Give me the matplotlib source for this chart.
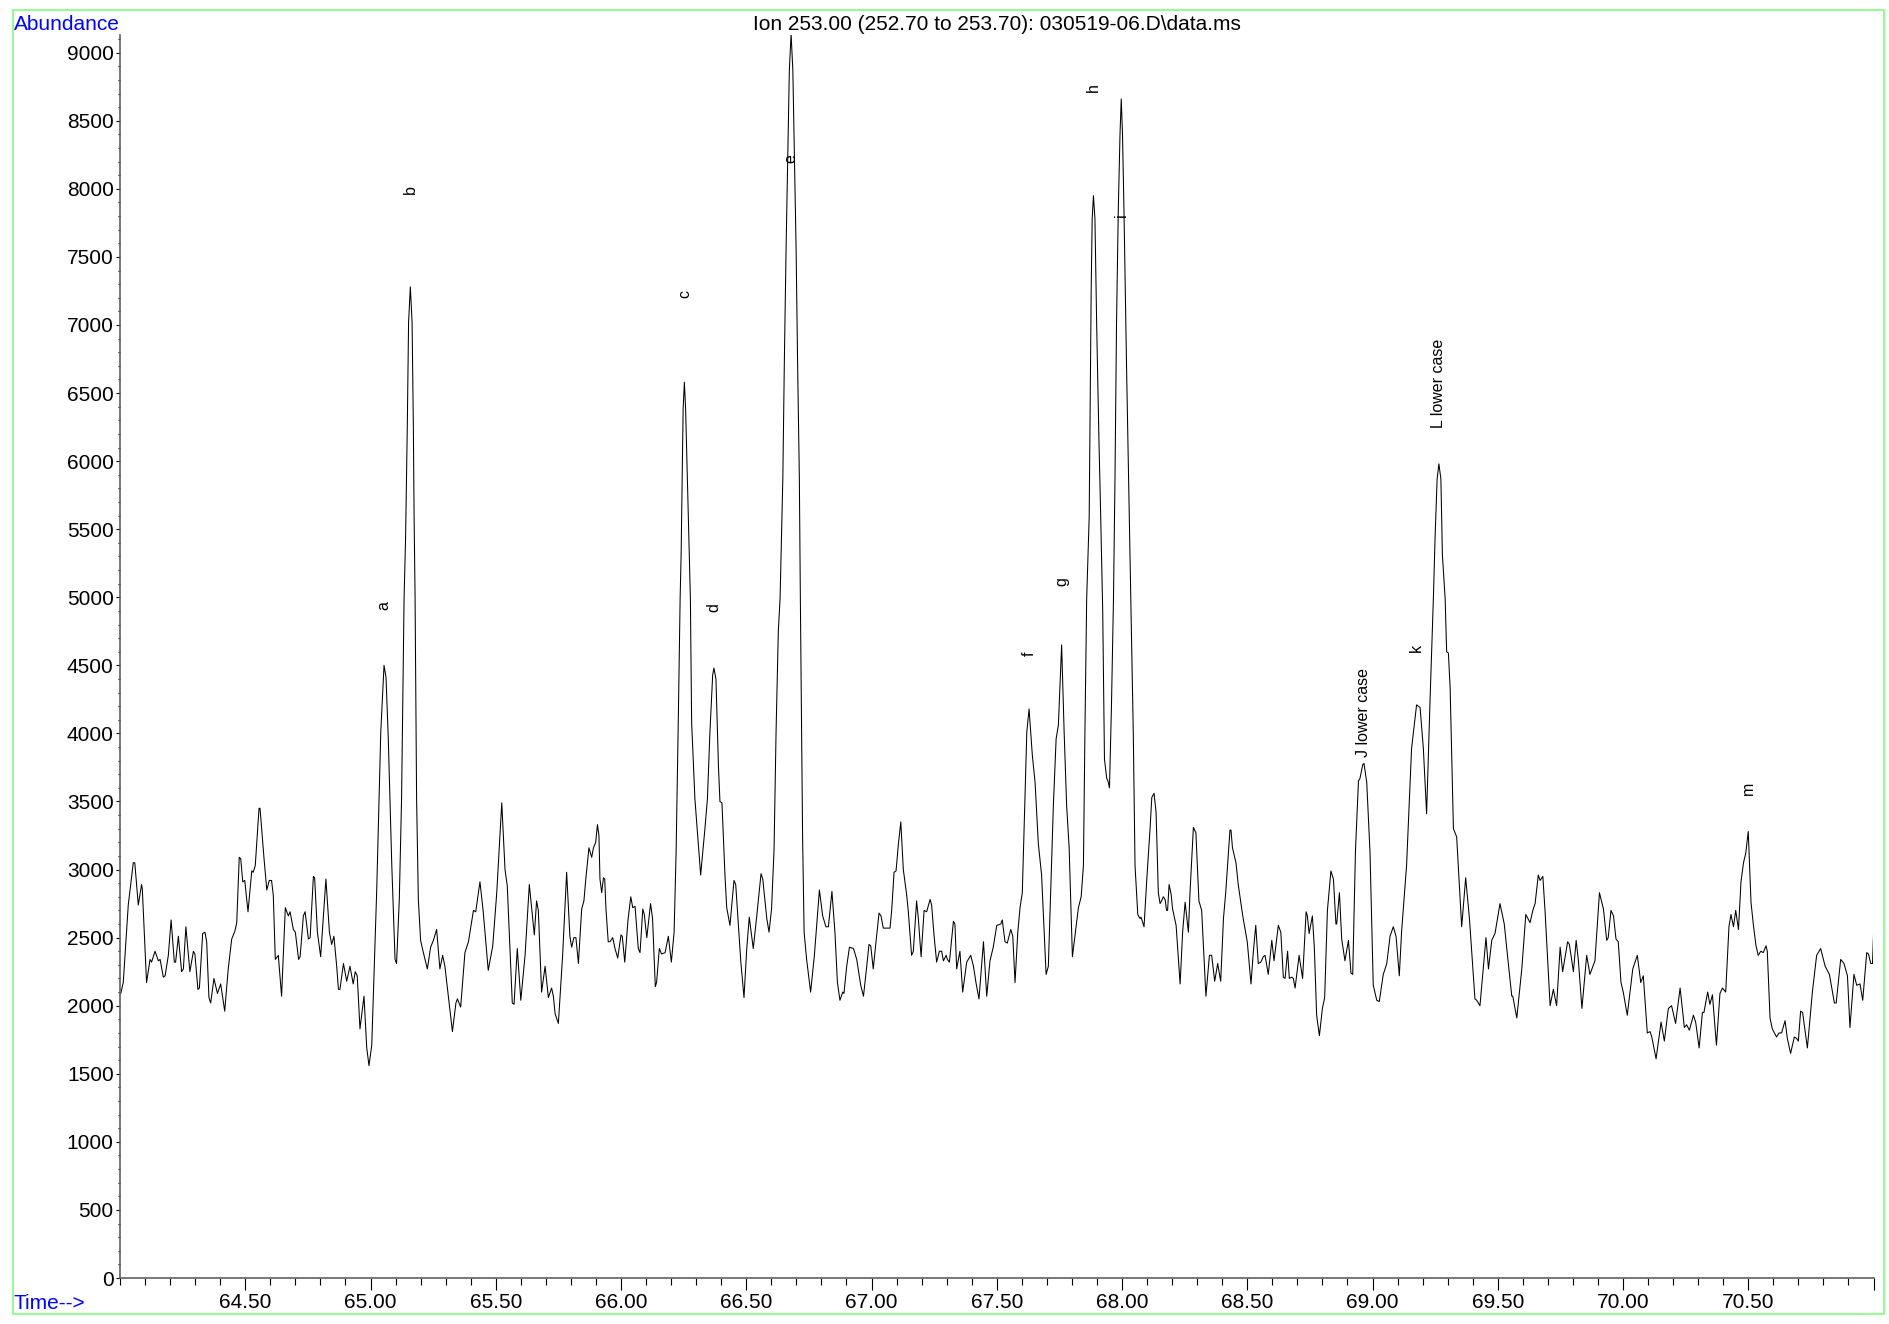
import numpy as np
import matplotlib
matplotlib.use("Agg")
import matplotlib.pyplot as plt
from matplotlib.patches import Rectangle
from matplotlib.ticker import MultipleLocator

plt.rcParams['font.family'] = ['Liberation Sans', 'DejaVu Sans']

# Extracted ion chromatogram, m/z 253 (retention time in minutes, abundance in counts)
time_min = [
    64.003, 64.013, 64.033, 64.053, 64.059, 64.073, 64.086, 64.089, 64.106, 64.120,
    64.126, 64.140, 64.153, 64.160, 64.173, 64.180, 64.193, 64.204, 64.217, 64.222,
    64.233, 64.246, 64.253, 64.263, 64.279, 64.293, 64.299, 64.311, 64.317, 64.330,
    64.339, 64.346, 64.355, 64.362, 64.375, 64.389, 64.402, 64.418, 64.432, 64.446,
    64.459, 64.466, 64.476, 64.482, 64.490, 64.498, 64.511, 64.526, 64.532, 64.540,
    64.555, 64.559, 64.575, 64.586, 64.596, 64.605, 64.612, 64.620, 64.632, 64.645,
    64.660, 64.672, 64.679, 64.692, 64.700, 64.713, 64.719, 64.732, 64.739, 64.752,
    64.759, 64.772, 64.777, 64.788, 64.801, 64.822, 64.836, 64.845, 64.854, 64.865,
    64.872, 64.878, 64.892, 64.905, 64.918, 64.931, 64.939, 64.947, 64.958, 64.974,
    64.985, 64.994, 65.005, 65.025, 65.041, 65.054, 65.062, 65.071, 65.085, 65.098,
    65.104, 65.115, 65.124, 65.134, 65.140, 65.147, 65.152, 65.159, 65.166, 65.171,
    65.174, 65.178, 65.184, 65.191, 65.200, 65.211, 65.227, 65.240, 65.251, 65.264,
    65.277, 65.288, 65.297, 65.327, 65.341, 65.347, 65.360, 65.377, 65.391, 65.411,
    65.420, 65.437, 65.450, 65.470, 65.488, 65.504, 65.524, 65.537, 65.546, 65.554,
    65.566, 65.573, 65.586, 65.600, 65.617, 65.634, 65.654, 65.663, 65.670, 65.683,
    65.697, 65.710, 65.723, 65.730, 65.737, 65.750, 65.767, 65.783, 65.796, 65.803,
    65.812, 65.820, 65.830, 65.843, 65.852, 65.860, 65.872, 65.883, 65.890, 65.899,
    65.906, 65.912, 65.916, 65.923, 65.930, 65.935, 65.940, 65.949, 65.956, 65.967,
    65.976, 65.987, 66.000, 66.005, 66.015, 66.028, 66.039, 66.047, 66.056, 66.069,
    66.076, 66.087, 66.093, 66.103, 66.118, 66.126, 66.137, 66.142, 66.153, 66.162,
    66.176, 66.189, 66.201, 66.212, 66.220, 66.229, 66.236, 66.240, 66.244, 66.248,
    66.253, 66.258, 66.265, 66.273, 66.277, 66.282, 66.295, 66.318, 66.335, 66.345,
    66.355, 66.366, 66.371, 66.379, 66.389, 66.395, 66.403, 66.415, 66.422, 66.435,
    66.451, 66.458, 66.468, 66.478, 66.491, 66.502, 66.512, 66.528, 66.542, 66.559,
    66.566, 66.582, 66.591, 66.601, 66.611, 66.619, 66.628, 66.635, 66.646, 66.652,
    66.659, 66.666, 66.672, 66.679, 66.686, 66.692, 66.699, 66.705, 66.712, 66.716,
    66.721, 66.725, 66.731, 66.741, 66.757, 66.772, 66.792, 66.805, 66.818, 66.828,
    66.842, 66.854, 66.864, 66.874, 66.885, 66.890, 66.901, 66.912, 66.928, 66.941,
    66.957, 66.968, 66.981, 66.990, 66.997, 67.007, 67.018, 67.030, 67.038, 67.047,
    67.074, 67.081, 67.090, 67.098, 67.107, 67.117, 67.127, 67.140, 67.147, 67.160,
    67.167, 67.180, 67.187, 67.198, 67.210, 67.220, 67.234, 67.240, 67.250, 67.260,
    67.271, 67.280, 67.287, 67.298, 67.303, 67.311, 67.327, 67.333, 67.340, 67.353,
    67.364, 67.380, 67.396, 67.407, 67.417, 67.429, 67.447, 67.460, 67.473, 67.486,
    67.500, 67.516, 67.522, 67.533, 67.542, 67.556, 67.564, 67.573, 67.584, 67.593,
    67.602, 67.620, 67.629, 67.642, 67.653, 67.666, 67.679, 67.697, 67.706, 67.726,
    67.737, 67.746, 67.759, 67.769, 67.779, 67.789, 67.802, 67.826, 67.837, 67.846,
    67.852, 67.859, 67.869, 67.873, 67.877, 67.881, 67.886, 67.892, 67.899, 67.908,
    67.915, 67.923, 67.930, 67.939, 67.944, 67.950, 67.958, 67.966, 67.972, 67.978,
    67.985, 67.992, 67.997, 68.002, 68.008, 68.018, 68.029, 68.036, 68.045, 68.052,
    68.063, 68.072, 68.076, 68.088, 68.099, 68.112, 68.119, 68.128, 68.136, 68.145,
    68.152, 68.158, 68.165, 68.172, 68.178, 68.182, 68.188, 68.196, 68.202, 68.216,
    68.232, 68.242, 68.252, 68.265, 68.272, 68.285, 68.295, 68.307, 68.318, 68.325,
    68.335, 68.349, 68.358, 68.370, 68.382, 68.394, 68.405, 68.414, 68.431, 68.435,
    68.441, 68.455, 68.464, 68.482, 68.500, 68.515, 68.524, 68.534, 68.544, 68.554,
    68.564, 68.571, 68.584, 68.598, 68.607, 68.624, 68.634, 68.644, 68.651, 68.661,
    68.668, 68.677, 68.684, 68.691, 68.707, 68.721, 68.735, 68.740, 68.747, 68.760,
    68.768, 68.777, 68.788, 68.800, 68.809, 68.820, 68.834, 68.844, 68.854, 68.857,
    68.868, 68.877, 68.890, 68.904, 68.914, 68.921, 68.932, 68.944, 68.950, 68.961,
    68.966, 68.977, 68.990, 69.003, 69.017, 69.027, 69.043, 69.057, 69.070, 69.083,
    69.094, 69.107, 69.116, 69.136, 69.156, 69.176, 69.190, 69.203, 69.216, 69.230,
    69.243, 69.250, 69.258, 69.265, 69.273, 69.279, 69.290, 69.296, 69.303, 69.310,
    69.323, 69.336, 69.356, 69.372, 69.387, 69.409, 69.416, 69.429, 69.453, 69.463,
    69.476, 69.489, 69.509, 69.526, 69.536, 69.556, 69.560, 69.576, 69.596, 69.612,
    69.629, 69.640, 69.649, 69.662, 69.669, 69.680, 69.689, 69.709, 69.722, 69.735,
    69.749, 69.759, 69.779, 69.786, 69.802, 69.813, 69.822, 69.836, 69.855, 69.868,
    69.888, 69.906, 69.922, 69.935, 69.941, 69.952, 69.962, 69.972, 69.981, 69.992,
    70.001, 70.017, 70.039, 70.057, 70.071, 70.081, 70.097, 70.108, 70.115, 70.132,
    70.152, 70.165, 70.181, 70.194, 70.210, 70.228, 70.245, 70.254, 70.265, 70.281,
    70.290, 70.304, 70.317, 70.323, 70.338, 70.347, 70.357, 70.373, 70.387, 70.397,
    70.410, 70.423, 70.431, 70.441, 70.450, 70.461, 70.471, 70.481, 70.490, 70.500,
    70.511, 70.520, 70.531, 70.540, 70.550, 70.560, 70.571, 70.576, 70.587, 70.596,
    70.613, 70.623, 70.633, 70.647, 70.656, 70.669, 70.684, 70.693, 70.700, 70.709,
    70.717, 70.736, 70.756, 70.773, 70.789, 70.807, 70.824, 70.844, 70.851, 70.869,
    70.882, 70.896, 70.906, 70.922, 70.933, 70.946, 70.957, 70.973, 70.980, 70.989,
    70.996, 71.000,
]

abundance = [
    2090, 2170, 2740, 3050, 3050, 2740, 2890, 2860, 2170, 2340,
    2320, 2400, 2330, 2340, 2210, 2220, 2370, 2630, 2320, 2320,
    2510, 2250, 2270, 2580, 2250, 2400, 2380, 2120, 2130, 2530,
    2540, 2470, 2060, 2020, 2200, 2090, 2160, 1960, 2270, 2490,
    2550, 2610, 3090, 3080, 2910, 2920, 2690, 2990, 2980, 3030,
    3450, 3450, 3080, 2850, 2920, 2920, 2810, 2340, 2370, 2070,
    2720, 2660, 2690, 2560, 2540, 2340, 2360, 2660, 2690, 2490,
    2500, 2950, 2940, 2540, 2360, 2930, 2540, 2450, 2510, 2290,
    2120, 2120, 2310, 2180, 2290, 2160, 2250, 2220, 1830, 2070,
    1690, 1560, 1710, 2860, 4010, 4500, 4410, 3960, 3030, 2340,
    2310, 2780, 3520, 4990, 5430, 6270, 7020, 7280, 7020, 6270,
    5600, 4990, 3520, 2780, 2480, 2390, 2270, 2430, 2480, 2560,
    2270, 2370, 2290, 1810, 2020, 2050, 1990, 2390, 2470, 2700,
    2690, 2910, 2690, 2260, 2440, 2830, 3490, 3000, 2880, 2540,
    2020, 2010, 2420, 2040, 2370, 2890, 2520, 2770, 2700, 2100,
    2290, 2060, 2130, 2070, 1940, 1870, 2370, 2980, 2510, 2430,
    2500, 2500, 2310, 2710, 2770, 2940, 3160, 3090, 3160, 3200,
    3330, 3250, 2930, 2830, 2940, 2930, 2710, 2470, 2470, 2500,
    2420, 2350, 2520, 2510, 2320, 2630, 2800, 2720, 2730, 2420,
    2390, 2710, 2670, 2500, 2750, 2640, 2140, 2170, 2420, 2380,
    2390, 2510, 2320, 2540, 3130, 4130, 4990, 5310, 5870, 6380,
    6580, 6380, 5870, 5310, 4990, 4080, 3520, 2960, 3300, 3520,
    4010, 4430, 4480, 4400, 3760, 3500, 3490, 2960, 2720, 2590,
    2920, 2890, 2610, 2330, 2060, 2420, 2650, 2420, 2660, 2970,
    2930, 2640, 2540, 2710, 3150, 4010, 4750, 4990, 5870, 6720,
    7560, 8260, 8870, 9140, 8870, 8260, 7560, 6720, 5870, 4990,
    4010, 3230, 2540, 2340, 2100, 2370, 2850, 2660, 2580, 2580,
    2840, 2540, 2170, 2040, 2100, 2090, 2290, 2430, 2420, 2340,
    2150, 2070, 2290, 2450, 2440, 2270, 2470, 2680, 2660, 2570,
    2570, 2710, 2980, 2990, 3180, 3350, 3000, 2820, 2690, 2370,
    2400, 2770, 2640, 2360, 2700, 2690, 2780, 2740, 2510, 2320,
    2400, 2400, 2330, 2370, 2340, 2320, 2620, 2600, 2270, 2400,
    2100, 2320, 2370, 2290, 2170, 2050, 2470, 2070, 2330, 2430,
    2590, 2600, 2630, 2470, 2460, 2560, 2510, 2170, 2540, 2720,
    2830, 4010, 4180, 3840, 3640, 3190, 2960, 2230, 2290, 3470,
    3960, 4060, 4650, 4010, 3470, 3160, 2360, 2720, 2800, 3030,
    4010, 4990, 5590, 6430, 7270, 7780, 7950, 7780, 6990, 6150,
    5590, 4900, 3810, 3670, 3650, 3600, 4210, 4990, 5870, 6990,
    7830, 8400, 8660, 8400, 7830, 6710, 5590, 4900, 4010, 3030,
    2670, 2640, 2650, 2580, 2930, 3300, 3530, 3560, 3420, 2830,
    2750, 2770, 2800, 2780, 2700, 2700, 2890, 2820, 2710, 2590,
    2160, 2540, 2760, 2540, 2850, 3310, 3270, 2770, 2700, 2440,
    2070, 2370, 2370, 2180, 2310, 2180, 2640, 2830, 3290, 3290,
    3160, 3050, 2890, 2660, 2470, 2160, 2390, 2590, 2310, 2320,
    2360, 2370, 2230, 2480, 2330, 2590, 2540, 2210, 2200, 2400,
    2200, 2210, 2200, 2130, 2370, 2200, 2690, 2660, 2530, 2660,
    2420, 1930, 1780, 1980, 2060, 2700, 2990, 2930, 2600, 2600,
    2830, 2490, 2330, 2480, 2240, 2230, 3140, 3650, 3670, 3770,
    3780, 3640, 3130, 2150, 2040, 2030, 2230, 2310, 2510, 2580,
    2510, 2220, 2540, 3030, 3890, 4210, 4190, 3890, 3410, 4260,
    4990, 5450, 5870, 5980, 5870, 5310, 4990, 4600, 4590, 4330,
    3300, 3240, 2580, 2940, 2640, 2050, 2040, 2000, 2500, 2270,
    2480, 2530, 2750, 2600, 2420, 2070, 2070, 1910, 2270, 2670,
    2610, 2700, 2750, 2960, 2920, 2950, 2690, 2000, 2120, 2000,
    2430, 2250, 2470, 2450, 2250, 2480, 2330, 1980, 2370, 2230,
    2330, 2830, 2710, 2480, 2500, 2700, 2660, 2490, 2470, 2170,
    2100, 1930, 2270, 2370, 2170, 2220, 1800, 1810, 1770, 1610,
    1880, 1740, 1980, 2000, 1870, 2130, 1840, 1860, 1820, 1930,
    1880, 1690, 1950, 1950, 2100, 2010, 2080, 1710, 2090, 2130,
    2100, 2580, 2670, 2580, 2700, 2560, 2910, 3050, 3120, 3280,
    2760, 2600, 2440, 2370, 2400, 2390, 2440, 2400, 1910, 1830,
    1770, 1800, 1800, 1890, 1760, 1650, 1770, 1760, 1740, 1960,
    1950, 1690, 2100, 2370, 2420, 2290, 2230, 2020, 2020, 2340,
    2310, 2220, 1840, 2230, 2150, 2160, 2040, 2390, 2380, 2310,
    2310, 2520,
]

# Peak annotations: name, retention time, and the abundance where the text begins
peak_names = ["a", "b", "c", "d", "e", "f", "g", "h", "i",
              "J lower case", "k", "L lower case", "m"]
peak_times = [65.054, 65.159, 66.253, 66.371, 66.679, 67.629, 67.759, 67.886,
              67.997, 68.963, 69.176, 69.265, 70.500]
label_y = [4910, 7960, 7200, 4890, 8190, 4570, 5080, 8710, 7790,
           3830, 4600, 6240, 3550]

title = "Ion 253.00 (252.70 to 253.70): 030519-06.D\\data.ms"

W, H = 1890, 1324
fig = plt.figure(figsize=(W / 100, H / 100), dpi=100)
ax = fig.add_axes([120 / W, 1 - 1278 / H, 1753.5 / W, 1243 / H])

ax.plot(time_min, abundance, color="black", lw=0.75)

ax.set_xlim(64.0, 71.0)
ax.set_ylim(0, 9130)

xt = np.arange(64.5, 71.01, 0.5)
ax.set_xticks(xt)
ax.set_xticklabels([f"{t:.2f}" if t < 70.9 else "" for t in xt])
ax.xaxis.set_minor_locator(MultipleLocator(0.1))

yt = np.arange(0, 9001, 500)
ax.set_yticks(yt)
ax.set_yticklabels([str(int(v)) for v in yt])
ax.yaxis.set_minor_locator(MultipleLocator(100))

ax.tick_params(axis="x", which="major", length=8.5, width=0.8, pad=2, labelsize=15)
ax.tick_params(axis="x", which="minor", length=5, width=0.8)
ax.tick_params(axis="y", which="major", length=3, width=0.8, pad=1.5, labelsize=15)
ax.tick_params(axis="y", which="minor", length=1.5, width=0.8)

for side in ("top", "right"):
    ax.spines[side].set_visible(False)
for side in ("left", "bottom"):
    ax.spines[side].set_color("#606060")
    ax.spines[side].set_linewidth(1.2)

for name, t, yb in zip(peak_names, peak_times, label_y):
    ax.text(t, yb, name, rotation=90, ha="center", va="bottom", fontsize=11.5)

fig.text(13.5 / W, 1 - 29.5 / H, "Abundance", color="blue", fontsize=15,
         ha="left", va="baseline")
fig.text(13.5 / W, 1 - 1309 / H, "Time-->", color="blue", fontsize=15,
         ha="left", va="baseline")
fig.text(996.6 / W, 1 - 29.5 / H, title, fontsize=15, ha="center", va="baseline")

frame = Rectangle((13 / W, 1 - 1314 / H), 1871 / W, 1304 / H,
                  transform=fig.transFigure, fill=False,
                  edgecolor="#80ff80", lw=1.2)
fig.add_artist(frame)

fig.savefig("out.png", dpi=100)
